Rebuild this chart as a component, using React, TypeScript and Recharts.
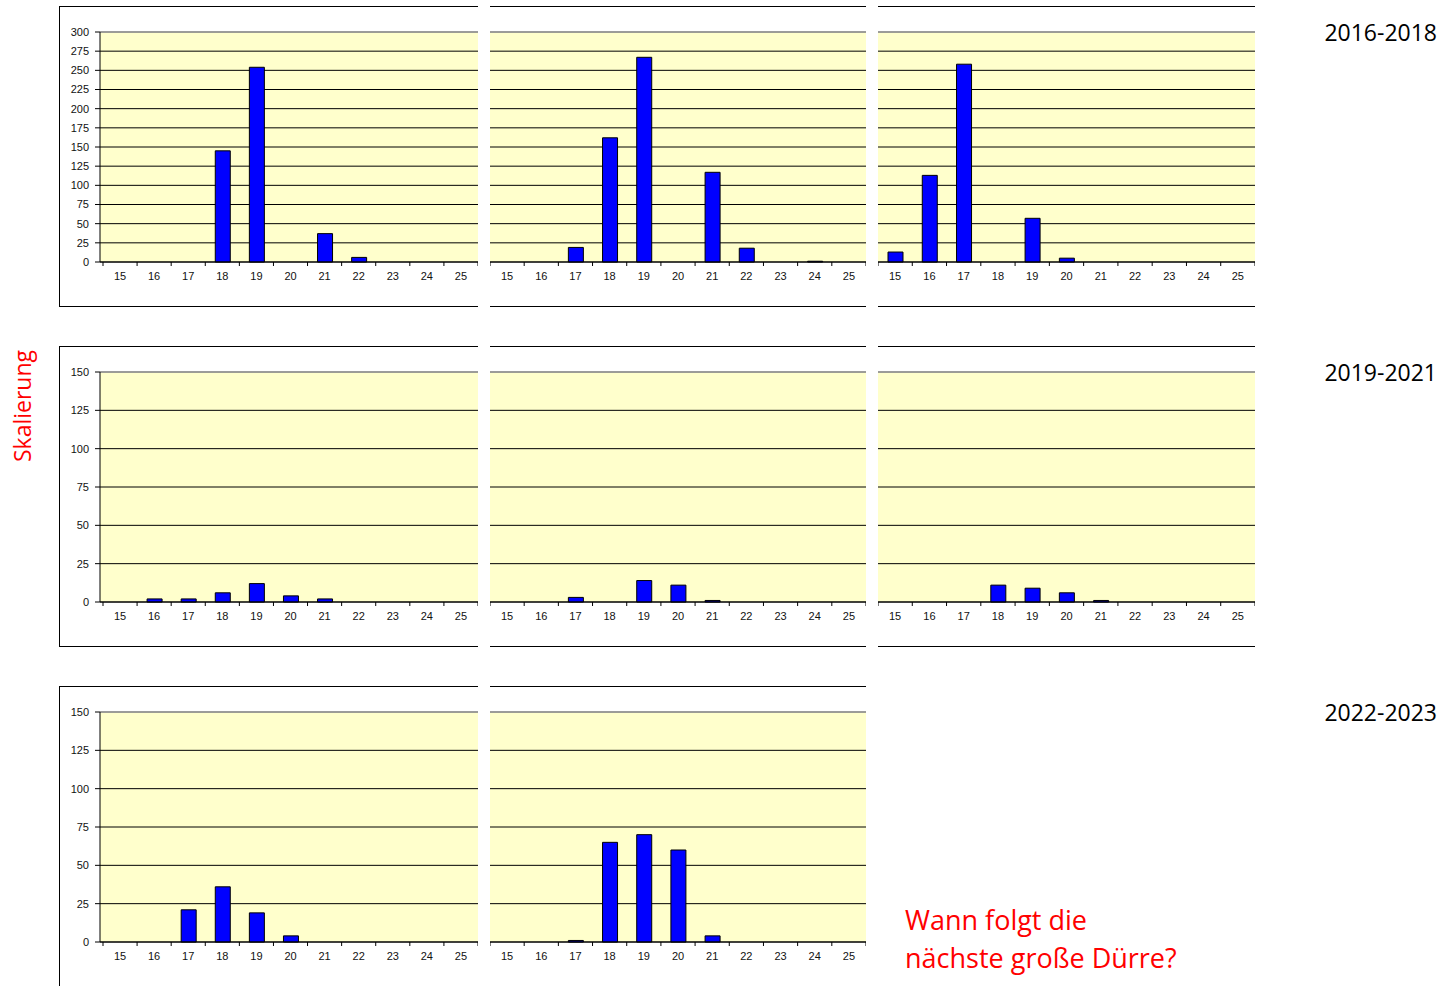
import React from "react";
import { BarChart, Bar, XAxis, YAxis, CartesianGrid, ReferenceLine } from "recharts";

// Kategorien (x-Achse) und Werte je Jahr
const categories = ["15", "16", "17", "18", "19", "20", "21", "22", "23", "24", "25"];

const values2016 = [0, 0, 0, 145, 254, 0, 37, 6, 0, 0, 0];
const values2017 = [0, 0, 19, 162, 267, 0, 117, 18, 0, 1, 0];
const values2018 = [13, 113, 258, 0, 57, 5, 0, 0, 0, 0, 0];
const values2019 = [0, 2, 2, 6, 12, 4, 2, 0, 0, 0, 0];
const values2020 = [0, 0, 3, 0, 14, 11, 1, 0, 0, 0, 0];
const values2021 = [0, 0, 0, 11, 9, 6, 1, 0, 0, 0, 0];
const values2022 = [0, 0, 21, 36, 19, 4, 0, 0, 0, 0, 0];
const values2023 = [0, 0, 1, 65, 70, 60, 4, 0, 0, 0, 0];

const ticksLarge = [0, 25, 50, 75, 100, 125, 150, 175, 200, 225, 250, 275, 300];
const ticksSmall = [0, 25, 50, 75, 100, 125, 150];

const periodLabels = ["2016-2018", "2019-2021", "2022-2023"];

const AXIS_FONT = "'Liberation Sans', Arial, sans-serif";
const TEXT_FONT = "'Open Sans', 'Noto Sans', sans-serif";

const cols = [
  { left: 59, width: 419, showY: true },
  { left: 490, width: 376, showY: false },
  { left: 878, width: 377, showY: false },
];

const makeXTick = (plotWidth: number, padLeft: number) => (props: any) => {
  const { x, y, payload, index } = props;
  const bw = (plotWidth - padLeft) / categories.length;
  const last = index === categories.length - 1;
  return (
    <g>
      <line x1={x - bw / 2} x2={x - bw / 2} y1={y} y2={y + 4} stroke="#000" />
      {last && <line x1={x + bw / 2} x2={x + bw / 2} y1={y} y2={y + 4} stroke="#000" />}
      <text
        x={x}
        y={y + 14}
        dy="0.35em"
        textAnchor="middle"
        fontSize={11}
        fontFamily={AXIS_FONT}
        fill="#111"
      >
        {payload.value}
      </text>
    </g>
  );
};

function Panel({ col, top, values, ticks, bottomLine = true }: any) {
  const c = cols[col];
  const yWidth = c.showY ? 41 : 0;
  const padLeft = c.showY ? 3 : 0;
  const plotWidth = c.width - yWidth;
  const max = ticks[ticks.length - 1];
  const data = categories.map((cat, i) => ({ cat, v: values[i] }));
  return (
    <div style={{ position: "absolute", left: c.left, top, width: c.width, height: 300 }}>
      <div style={{ position: "absolute", left: 0, top: 0, width: c.width, height: 1, background: "#000" }} />
      {bottomLine && (
        <div style={{ position: "absolute", left: 0, top: 300, width: c.width, height: 1, background: "#000" }} />
      )}
      {c.showY && (
        <div style={{ position: "absolute", left: 0, top: 0, width: 1, height: 301, background: "#000" }} />
      )}
      <BarChart
        width={c.width}
        height={300}
        data={data}
        margin={{ top: 26, right: 0, left: 0, bottom: 0 }}
        style={{ position: "absolute", left: 0, top: 0 }}
      >
        <CartesianGrid vertical={false} stroke="#000" fill="#FFFFCC" />
        <XAxis
          dataKey="cat"
          height={44}
          interval={0}
          tickSize={0}
          tickMargin={0}
          tickLine={false}
          axisLine={{ stroke: "#000" }}
          padding={{ left: padLeft, right: 0 }}
          tick={makeXTick(plotWidth, padLeft)}
        />
        <YAxis
          hide={!c.showY}
          width={yWidth}
          domain={[0, max]}
          ticks={ticks}
          interval={0}
          tickSize={5}
          tickMargin={6}
          axisLine={{ stroke: "#000" }}
          tickLine={{ stroke: "#000" }}
          tick={{ fontSize: 11, fill: "#111", fontFamily: AXIS_FONT }}
        />
        <ReferenceLine y={max} stroke="#a6a6a6" strokeWidth={1.5} />
        <Bar
          dataKey="v"
          fill="#0000FF"
          stroke="#000"
          strokeWidth={1}
          barSize={15}
          isAnimationActive={false}
        />
      </BarChart>
    </div>
  );
}

export default function App() {
  return (
    <div
      style={{
        position: "absolute",
        left: 0,
        top: 0,
        width: 1445,
        height: 986,
        background: "#fff",
        overflow: "hidden",
        fontFamily: TEXT_FONT,
      }}
    >
      <Panel col={0} top={6} values={values2016} ticks={ticksLarge} />
      <Panel col={1} top={6} values={values2017} ticks={ticksLarge} />
      <Panel col={2} top={6} values={values2018} ticks={ticksLarge} />

      <Panel col={0} top={346} values={values2019} ticks={ticksSmall} />
      <Panel col={1} top={346} values={values2020} ticks={ticksSmall} />
      <Panel col={2} top={346} values={values2021} ticks={ticksSmall} />

      <Panel col={0} top={686} values={values2022} ticks={ticksSmall} bottomLine={false} />
      <Panel col={1} top={686} values={values2023} ticks={ticksSmall} bottomLine={false} />

      {periodLabels.map((label, i) => (
        <div
          key={label}
          style={{
            position: "absolute",
            right: 8,
            top: 16 + i * 340,
            fontSize: 23,
            lineHeight: "32px",
            color: "#000",
          }}
        >
          {label}
        </div>
      ))}

      <div
        style={{
          position: "absolute",
          left: 22,
          top: 406,
          transform: "translate(-50%, -50%) rotate(-90deg)",
          fontSize: 23,
          color: "#FF0000",
          whiteSpace: "nowrap",
        }}
      >
        Skalierung
      </div>

      <div
        style={{
          position: "absolute",
          left: 905,
          top: 901,
          fontSize: 27,
          lineHeight: "38px",
          color: "#FF0000",
          whiteSpace: "nowrap",
        }}
      >
        Wann folgt die
        <br />
        nächste große Dürre?
      </div>
    </div>
  );
}
